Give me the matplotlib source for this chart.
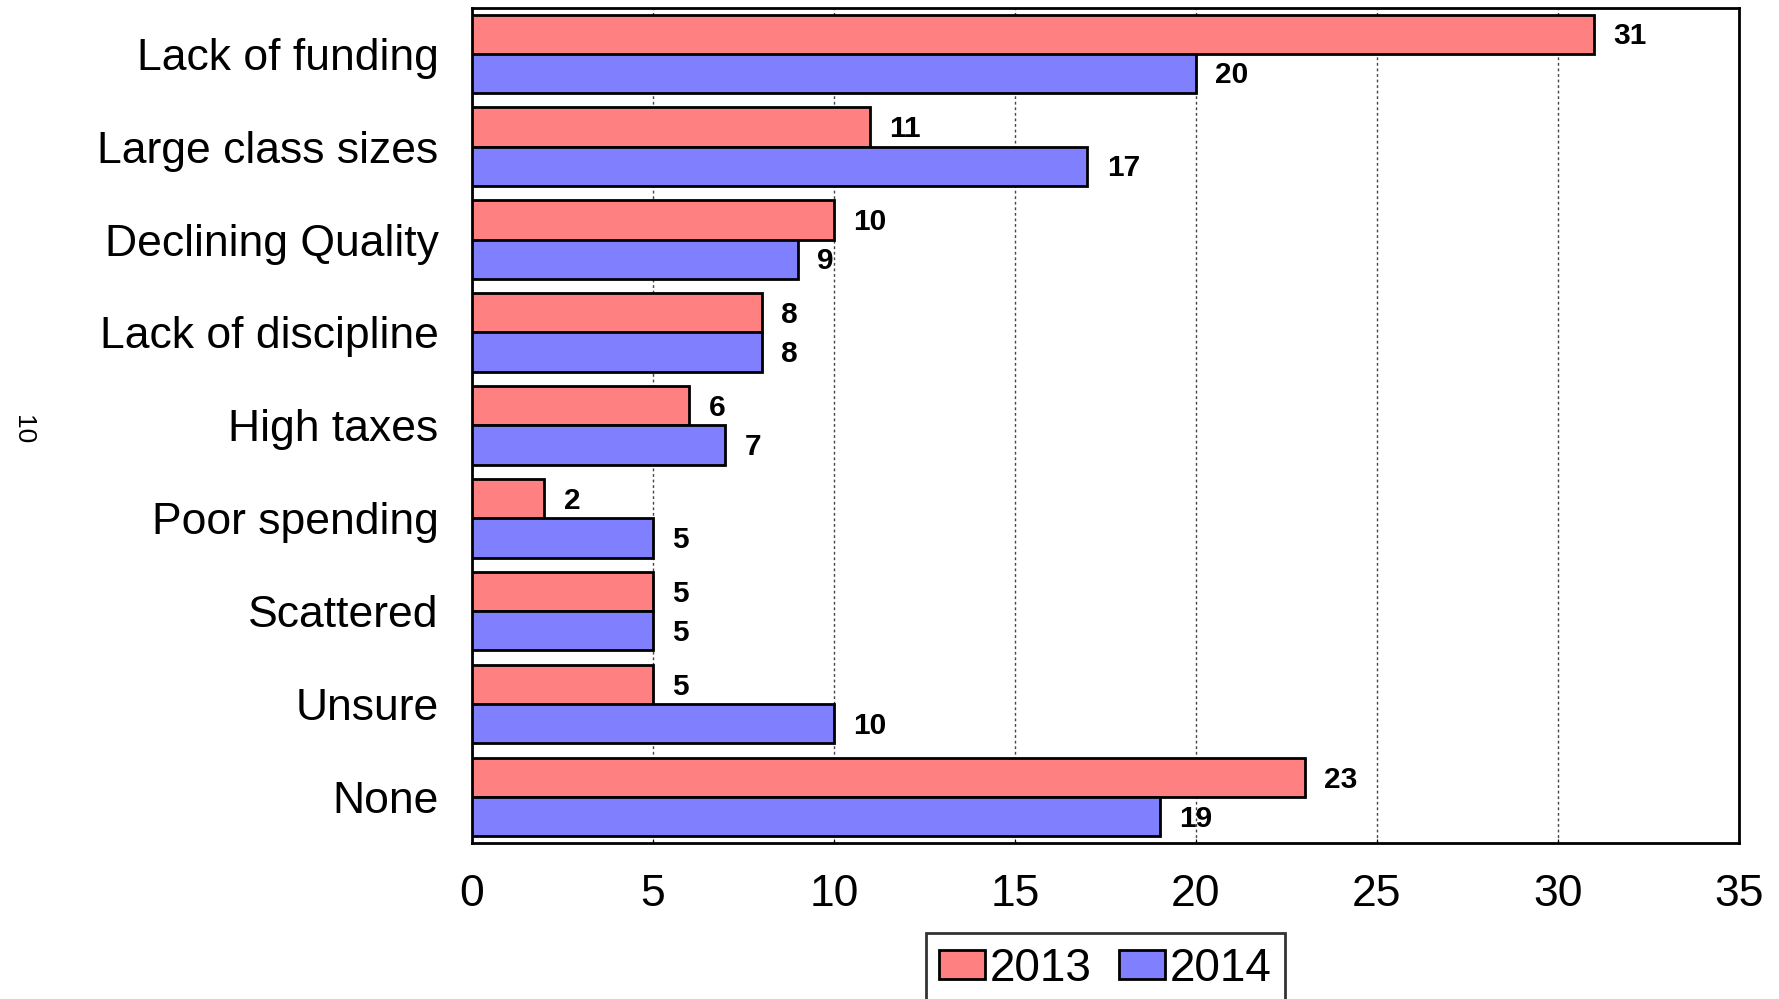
import numpy as np
import matplotlib.pyplot as plt

plt.rcParams['font.family'] = ['Liberation Sans', 'DejaVu Sans']

# data
categories = ['Lack of funding', 'Large class sizes', 'Declining Quality',
              'Lack of discipline', 'High taxes', 'Poor spending',
              'Scattered', 'Unsure', 'None']
values_2013 = [31, 11, 10, 8, 6, 2, 5, 5, 23]
values_2014 = [20, 17, 9, 8, 7, 5, 5, 10, 19]
series_labels = ['2013', '2014']
xticks = [0, 5, 10, 15, 20, 25, 30, 35]

color_2013 = '#FF8080'
color_2014 = '#8080FF'

fig = plt.figure(figsize=(17.79, 9.99), dpi=100)
ax = fig.add_axes([0.2653, 0.1562, 0.9775 - 0.2653, 0.992 - 0.1562])

y = np.arange(len(categories))
h = 0.42
b1 = ax.barh(y - h / 2, values_2013, height=h, color=color_2013,
             edgecolor='black', linewidth=2, label=series_labels[0], zorder=3)
b2 = ax.barh(y + h / 2, values_2014, height=h, color=color_2014,
             edgecolor='black', linewidth=2, label=series_labels[1], zorder=3)

# value labels next to bar ends
for bars, vals in [(b1, values_2013), (b2, values_2014)]:
    for rect, v in zip(bars, vals):
        ax.annotate(str(v), (v, rect.get_y() + rect.get_height() / 2),
                    xytext=(14, -1.5), textcoords='offset points',
                    ha='left', va='center', fontsize=21.5, fontweight='bold',
                    zorder=4)

ax.set_xlim(0, 35)
ax.set_ylim(len(categories) - 0.51, -0.49)
ax.set_xticks(xticks)
ax.set_yticks(y)
ax.set_yticklabels(categories)
ax.tick_params(axis='x', labelsize=32, length=3, direction='in', pad=22)
ax.tick_params(axis='y', labelsize=32, length=0, pad=24)
ax.xaxis.grid(True, linestyle=(0, (2, 2)), color='#444444', linewidth=1, zorder=0)
for s in ax.spines.values():
    s.set_linewidth(2)

fig.text(0.013, 0.57, '10', rotation=270, fontsize=19, ha='center', va='center')

leg = fig.legend(handles=[b1, b2], labels=series_labels, loc='upper center',
                 bbox_to_anchor=(0.6214, 0.066), ncol=2, fontsize=33,
                 frameon=True, fancybox=False, edgecolor='black',
                 handlelength=1.0, handleheight=0.6, handletextpad=0.1,
                 columnspacing=0.6, borderpad=0.3, borderaxespad=0)
leg.get_frame().set_linewidth(2)

fig.savefig('out.png', dpi=100)
